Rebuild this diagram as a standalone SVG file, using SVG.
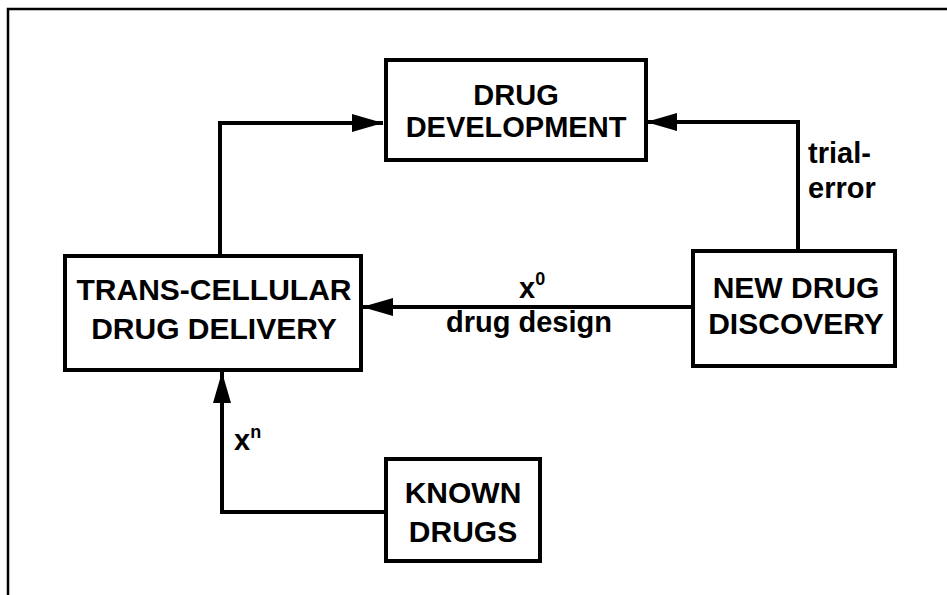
<svg xmlns="http://www.w3.org/2000/svg" width="947" height="595" viewBox="0 0 947 595">
<defs>
<style>
.box{fill:#fff;stroke:#000;stroke-width:4}
.conn{fill:none;stroke:#000;stroke-width:4}
.t{font-family:"Liberation Sans",Arial,Helvetica,sans-serif;font-weight:bold;font-size:30px;fill:#000;text-anchor:middle}
.l{font-family:"Liberation Sans",Arial,Helvetica,sans-serif;font-weight:bold;font-size:29px;fill:#000}
</style>
<marker id="ah" markerUnits="userSpaceOnUse" markerWidth="32" markerHeight="20" refX="31" refY="10" orient="auto">
<path d="M0,1 L31,10 L0,19 Z" fill="#000"/>
</marker>
</defs>
<rect width="947" height="595" fill="#fff"/>
<path d="M8,595 L8,9 L947,9" fill="none" stroke="#000" stroke-width="2.5"/>
<g id="connectors">
<path class="conn" d="M220,255 L220,123 L383,123" marker-end="url(#ah)"/>
<path class="conn" d="M798,250 L798,122 L646,122" marker-end="url(#ah)"/>
<path class="conn" d="M692,307 L362,307" marker-end="url(#ah)"/>
<path class="conn" d="M385,512 L222,512 L222,372" marker-end="url(#ah)"/>
</g>
<g id="drug-development">
<rect class="box" x="386" y="60" width="260" height="100"/>
<text class="t" x="516" y="105" font-size="29" style="font-size:29px">DRUG</text>
<text class="t" x="516" y="137" style="font-size:29px">DEVELOPMENT</text>
</g>
<g id="trans-cellular">
<rect class="box" x="65" y="256" width="296" height="114"/>
<text class="t" x="214" y="300">TRANS-CELLULAR</text>
<text class="t" x="214" y="339">DRUG DELIVERY</text>
</g>
<g id="new-drug-discovery">
<rect class="box" x="693" y="251" width="202" height="115"/>
<text class="t" x="796" y="298">NEW DRUG</text>
<text class="t" x="796" y="334">DISCOVERY</text>
</g>
<g id="known-drugs">
<rect class="box" x="386" y="459" width="154" height="102"/>
<text class="t" x="463" y="503">KNOWN</text>
<text class="t" x="463" y="542">DRUGS</text>
</g>
<g id="labels">
<text class="l" x="519" y="298">x<tspan font-size="18" dy="-13">0</tspan></text>
<text class="l" x="529" y="332" text-anchor="middle">drug design</text>
<text class="l" x="808" y="163">trial-</text>
<text class="l" x="808" y="198">error</text>
<text class="l" x="234" y="450">x<tspan font-size="18" dy="-12">n</tspan></text>
</g>
</svg>
